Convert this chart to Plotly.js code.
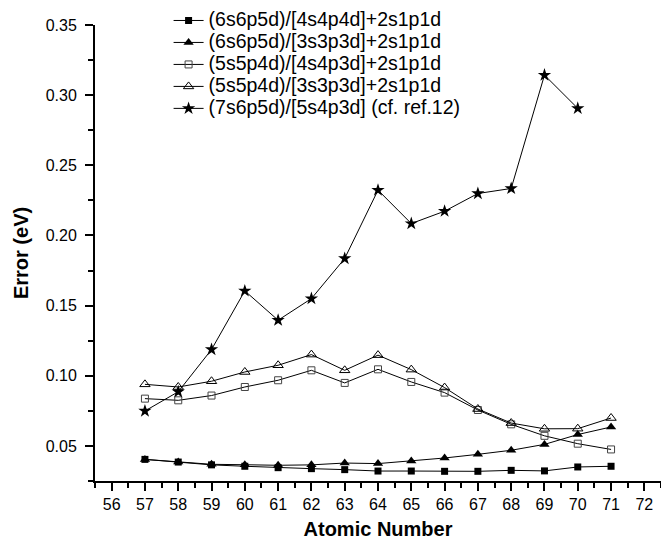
<!DOCTYPE html>
<html>
<head>
<meta charset="utf-8">
<script src="https://cdn.plot.ly/plotly-3.0.1.min.js"></script>
<style>html,body{margin:0;padding:0;background:#fff;}#chart{width:661px;height:546px;}</style>
</head>
<body>
<div id="chart"></div>
<script>
const atomicNumbers = [57, 58, 59, 60, 61, 62, 63, 64, 65, 66, 67, 68, 69, 70, 71];
const starZ = [57, 58, 59, 60, 61, 62, 63, 64, 65, 66, 67, 68, 69, 70];

const seriesNames = [
  "(6s6p5d)/[4s4p4d]+2s1p1d",
  "(6s6p5d)/[3s3p3d]+2s1p1d",
  "(5s5p4d)/[4s4p3d]+2s1p1d",
  "(5s5p4d)/[3s3p3d]+2s1p1d",
  "(7s6p5d)/[5s4p3d] (cf. ref.12)"
];

const err6s_4s4p4d = [0.0404, 0.0385, 0.0365, 0.0355, 0.0345, 0.0338, 0.0331, 0.0321, 0.0321, 0.0319, 0.0319, 0.0326, 0.0322, 0.0350, 0.0355];
const err6s_3s3p3d = [0.0404, 0.0385, 0.0369, 0.0366, 0.0362, 0.0365, 0.0378, 0.0374, 0.0392, 0.0414, 0.0440, 0.0469, 0.0511, 0.0581, 0.0635];
const err5s_4s4p3d = [0.0837, 0.0825, 0.0859, 0.0920, 0.0968, 0.1039, 0.0949, 0.1046, 0.0956, 0.0880, 0.0756, 0.0654, 0.0572, 0.0516, 0.0475];
const err5s_3s3p3d = [0.0939, 0.0920, 0.0961, 0.1027, 0.1075, 0.1151, 0.1039, 0.1147, 0.1044, 0.0916, 0.0763, 0.0663, 0.0622, 0.0623, 0.0699];
const errRef12 = [0.0749, 0.0886, 0.1187, 0.1605, 0.1396, 0.1550, 0.1836, 0.2323, 0.2085, 0.2173, 0.2299, 0.2335, 0.3143, 0.2906];

const FONT = "Liberation Sans, Arial, Helvetica, sans-serif";
const lineStyle = {color: "#000", width: 1};
const legendLabel = s => '<span style="font-size:19.5px">' + s + '</span>';

const traces = [
  {x: atomicNumbers, y: err6s_4s4p4d, name: legendLabel(seriesNames[0]), mode: "lines+markers",
   line: lineStyle, marker: {symbol: "square", size: 7, color: "#000"}},
  {x: atomicNumbers, y: err6s_3s3p3d, name: legendLabel(seriesNames[1]), mode: "lines+markers",
   line: lineStyle, marker: {symbol: "triangle-up", size: 9, color: "#000"}},
  {x: atomicNumbers, y: err5s_4s4p3d, name: legendLabel(seriesNames[2]), mode: "lines+markers",
   line: lineStyle, marker: {symbol: "square-open", size: 7, color: "#444", line: {width: 1}}},
  {x: atomicNumbers, y: err5s_3s3p3d, name: legendLabel(seriesNames[3]), mode: "lines+markers",
   line: lineStyle, marker: {symbol: "triangle-up-open", size: 9, color: "#000", line: {width: 1}}},
  {x: starZ, y: errRef12, name: legendLabel(seriesNames[4]), mode: "lines+markers",
   line: lineStyle, marker: {symbol: "star", size: 10, color: "#000"}}
];

const layout = {
  width: 661, height: 546,
  margin: {l: 95, r: 0, t: 25, b: 65, pad: 0},
  paper_bgcolor: "#fff", plot_bgcolor: "#fff",
  font: {family: FONT, color: "#000", size: 16},
  showlegend: true,
  legend: {
    x: 0.13, y: 1.045, xanchor: "left", yanchor: "top",
    bgcolor: "rgba(0,0,0,0)", borderwidth: 0,
    font: {family: FONT, size: 14.6, color: "#000"},
    itemwidth: 30
  },
  xaxis: {
    range: [55.5, 72.5], dtick: 1, tick0: 56,
    showgrid: false, zeroline: false,
    showline: true, linecolor: "#000", linewidth: 2,
    ticks: "outside", ticklen: 8, tickwidth: 2, tickcolor: "#000",
    minor: {dtick: 0.5, ticks: "outside", ticklen: 5, tickwidth: 2, tickcolor: "#000", showgrid: false},
    tickfont: {family: FONT, size: 16},
    title: {text: "<b>Atomic Number</b>", font: {family: FONT, size: 20}, standoff: 10}
  },
  yaxis: {
    range: [0.025, 0.35], dtick: 0.05, tick0: 0,
    tickformat: ".2f",
    showgrid: false, zeroline: false,
    showline: true, linecolor: "#000", linewidth: 2,
    ticks: "outside", ticklen: 8, tickwidth: 2, tickcolor: "#000",
    minor: {dtick: 0.025, ticks: "outside", ticklen: 5, tickwidth: 2, tickcolor: "#000", showgrid: false},
    tickfont: {family: FONT, size: 16},
    ticklabelstandoff: 5,
    title: {text: "<b>Error (eV)</b>", font: {family: FONT, size: 20}, standoff: 12}
  }
};

Plotly.newPlot("chart", traces, layout, {displayModeBar: false, staticPlot: true});
</script>
</body>
</html>
